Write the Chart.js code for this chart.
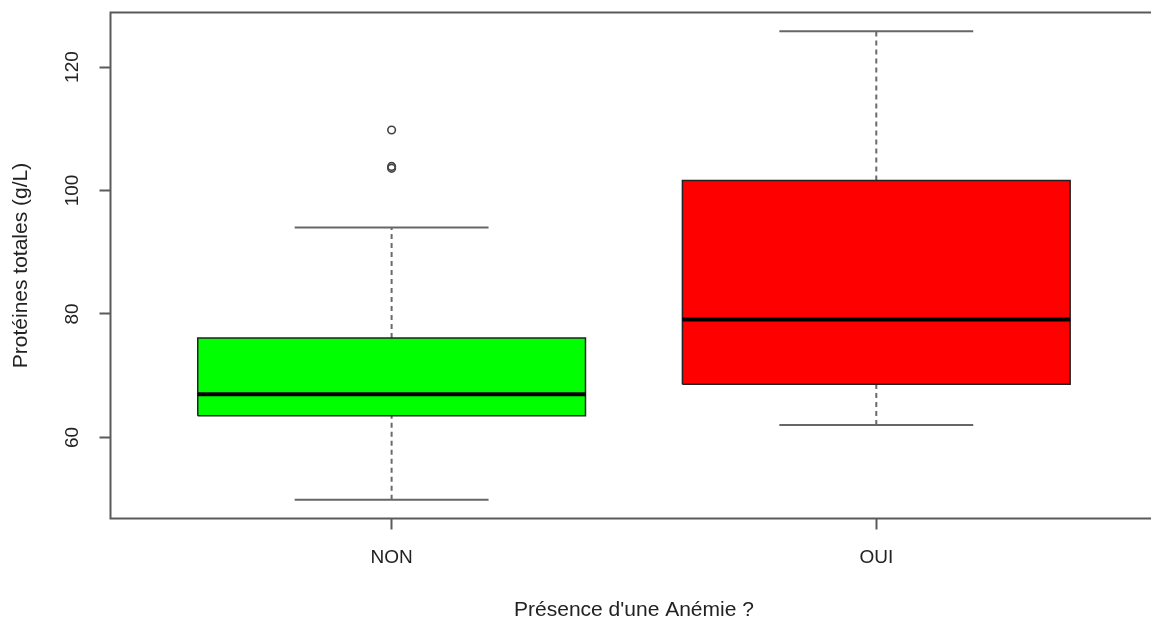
<!DOCTYPE html>
<html>
<head>
<meta charset="utf-8">
<script src="https://cdn.jsdelivr.net/npm/chart.js@4.4.1/dist/chart.umd.min.js"></script>
<style>
  html, body { margin: 0; padding: 0; background: #ffffff; overflow: hidden; }
  #wrap { width: 1151px; height: 621px; overflow: hidden; }
</style>
</head>
<body>
<div id="wrap"><canvas id="c" width="1163" height="621"></canvas></div>
<script>
// ---- Data ----
const categories   = ['NON', 'OUI'];
const whiskerLow   = [49.9, 62.0];
const quartile1    = [63.5, 68.6];
const medians      = [67.0, 79.1];
const quartile3    = [76.1, 101.6];
const whiskerHigh  = [94.0, 125.8];
const outliersNON  = [103.6, 103.9, 109.8];
const outliersOUI  = [];
const yTickValues  = [60, 80, 100, 120];
const xTitle = "Présence d'une Anémie ?";
const yTitle = 'Protéines totales (g/L)';

// ---- Styles ----
const boxFill = ['#00ff00', '#ff0000'];
const FONT = '"Liberation Sans", Arial, sans-serif';
const TEXT = '#222222';
const LINE = '#5a5a5a';
const HALF = 0.4, CAP = 0.2;

// R-like axis limits (4% extension)
const allVals = whiskerLow.concat(whiskerHigh, outliersNON, outliersOUI);
const dMin = Math.min(...allVals), dMax = Math.max(...allVals);
const ext = (dMax - dMin) * 0.04;
const xExt = 0.04 * categories.length;
const xMin = 0.5 - xExt, xMax = categories.length + 0.5 + xExt;

const datasets = [];
const outliers = [outliersNON, outliersOUI];
categories.forEach((cat, i) => {
  const c = i + 1;
  // box
  datasets.push({
    data: [{x: c - HALF, y: quartile1[i]}, {x: c + HALF, y: quartile1[i]},
           {x: c + HALF, y: quartile3[i]}, {x: c - HALF, y: quartile3[i]},
           {x: c - HALF, y: quartile1[i]}],
    showLine: true, fill: 'shape', backgroundColor: boxFill[i],
    borderColor: '#222222', borderWidth: 1.5, pointRadius: 0, order: 2
  });
  // median
  datasets.push({
    data: [{x: c - HALF, y: medians[i]}, {x: c + HALF, y: medians[i]}],
    showLine: true, borderColor: '#000000', borderWidth: 4, pointRadius: 0, order: 1
  });
  // whiskers (dashed)
  [[whiskerLow[i], quartile1[i]], [quartile3[i], whiskerHigh[i]]].forEach(([a, b]) => {
    datasets.push({
      data: [{x: c, y: a}, {x: c, y: b}],
      showLine: true, borderColor: '#6a6a6a', borderWidth: 2, borderDash: [5, 4],
      pointRadius: 0, order: 3
    });
  });
  // caps
  [whiskerLow[i], whiskerHigh[i]].forEach(v => {
    datasets.push({
      data: [{x: c - CAP, y: v}, {x: c + CAP, y: v}],
      showLine: true, borderColor: '#666666', borderWidth: 2, pointRadius: 0, order: 3
    });
  });
  // outliers
  if (outliers[i].length) {
    datasets.push({
      data: outliers[i].map(v => ({x: c, y: v})),
      showLine: false, pointRadius: 3.8, pointBorderWidth: 1.6,
      pointBorderColor: '#444444', pointBackgroundColor: 'rgba(0,0,0,0)', order: 0
    });
  }
});

const framePlugin = {
  id: 'frame',
  afterDraw(chart) {
    const {ctx, chartArea: a} = chart;
    ctx.save();
    ctx.strokeStyle = LINE;
    ctx.lineWidth = 2;
    ctx.strokeRect(a.left, a.top, a.right - a.left, a.bottom - a.top);
    ctx.restore();
  }
};

function noPad(s) {
  s.paddingLeft = 0; s.paddingRight = 0; s.paddingTop = 0; s.paddingBottom = 0;
}

new Chart(document.getElementById('c'), {
  type: 'scatter',
  data: { datasets },
  plugins: [framePlugin],
  options: {
    responsive: false,
    animation: false,
    events: [],
    layout: { padding: { left: 0, top: 12.5, right: 0, bottom: 0 } },
    plugins: { legend: { display: false }, tooltip: { enabled: false } },
    scales: {
      x: {
        type: 'linear', min: xMin, max: xMax,
        afterFit: s => { s.height = 102.5; noPad(s); },
        afterBuildTicks: s => { s.ticks = categories.map((_, i) => ({ value: i + 1 })); },
        grid: { drawOnChartArea: false, drawTicks: true, tickLength: 11, tickColor: LINE, tickWidth: 2 },
        border: { display: false },
        ticks: {
          color: TEXT, padding: 17, maxRotation: 0, autoSkip: false,
          font: { family: FONT, size: 19 },
          callback: v => categories[Math.round(v) - 1] || ''
        },
        title: {
          display: true, text: xTitle, color: TEXT,
          font: { family: FONT, size: 21, lineHeight: 1 }, padding: 0
        }
      },
      y: {
        type: 'linear', min: dMin - ext, max: dMax + ext,
        afterFit: s => { s.width = 110.5; noPad(s); },
        afterBuildTicks: s => { s.ticks = yTickValues.map(v => ({ value: v })); },
        grid: { drawOnChartArea: false, drawTicks: true, tickLength: 11, tickColor: LINE, tickWidth: 2 },
        border: { display: false },
        ticks: {
          color: TEXT, padding: 10.5, minRotation: 90, maxRotation: 90, crossAlign: 'center',
          font: { family: FONT, size: 19 }
        },
        title: {
          display: true, text: yTitle, color: TEXT,
          font: { family: FONT, size: 21, lineHeight: 1.2 }, padding: { top: 9, bottom: 0 }
        }
      }
    }
  }
});
</script>
</body>
</html>
